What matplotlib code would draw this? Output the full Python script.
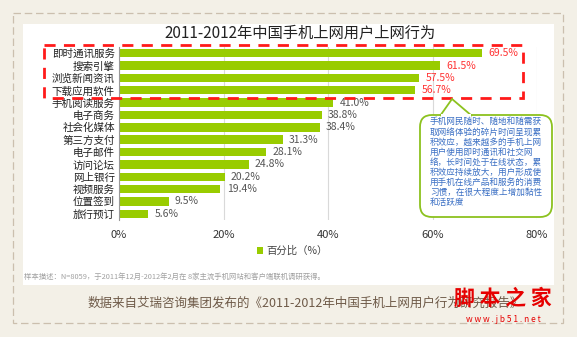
import matplotlib
matplotlib.use("Agg")
import matplotlib.pyplot as plt
from matplotlib.patches import Rectangle, FancyBboxPatch, Polygon, Patch

plt.rcParams["font.family"] = ["Noto Sans CJK SC", "DejaVu Sans"]

# data
categories = ["即时通讯服务", "搜索引擎", "浏览新闻资讯", "下载应用软件", "手机阅读服务",
              "电子商务", "社会化媒体", "第三方支付", "电子邮件", "访问论坛",
              "网上银行", "视频服务", "位置签到", "旅行预订"]
values = [69.5, 61.5, 57.5, 56.7, 41.0, 38.8, 38.4, 31.3, 28.1, 24.8, 20.2, 19.4, 9.5, 5.6]
highlight = 4  # first n rows in red
xticks = [0, 20, 40, 60, 80]
xticklabels = ["0%", "20%", "40%", "60%", "80%"]

title = "2011-2012年中国手机上网用户上网行为"
legend_label = "百分比（%）"
note = "样本描述：N=8059，于2011年12月-2012年2月在 8家主流手机网站和客户端联机调研获得。"
caption = "数据来自艾瑞咨询集团发布的《2011-2012年中国手机上网用户行为研究报告》"
callout = ("手机网民随时、随地和随需获\n取网络体验的碎片时间呈现累\n积效应，越来越多的手机上网\n"
           "用户使用即时通讯和社交网\n络，长时间处于在线状态，累\n积效应持续放大，用户形成使\n"
           "用手机在线产品和服务的消费\n习惯，在很大程度上增加黏性\n和活跃度")

W, H = 577, 337
fig = plt.figure(figsize=(W / 100, H / 100), dpi=100)
fig.patch.set_facecolor("#f3f0e7")

# background layer in pixel coords
bg = fig.add_axes([0, 0, 1, 1], zorder=0)
bg.set_xlim(0, W)
bg.set_ylim(H, 0)
bg.axis("off")
bg.add_patch(Rectangle((13, 13), 550, 310, fill=False, ec="#cbbfae", lw=0.9, ls=(0, (6, 3))))
bg.add_patch(Rectangle((23, 24), 531, 261, fc="white", ec="none"))
bg.text(300, 33, title, ha="center", va="center", fontsize=11, color="#222222")
bg.text(24, 277, note, ha="left", va="center", fontsize=5.3, color="#a0a0a0")
bg.text(88, 303, caption, ha="left", va="center", fontsize=9, color="#6e5a48")

# main bar chart
n = len(categories)
ax = fig.add_axes([119 / W, 1 - 220 / H, 418 / W, 173 / H], zorder=1)
ax.patch.set_alpha(0)
ax.barh(range(n), values, height=0.68, color="#99cc00", zorder=2)
ax.set_ylim(n - 0.5, -0.5)
ax.set_xlim(0, 80)
ax.set_yticks(range(n))
ax.set_yticklabels(categories, fontsize=7.6, color="#222222")
ax.set_xticks(xticks)
ax.set_xticklabels(xticklabels, fontsize=8, color="#333333")
ax.tick_params(axis="y", length=0, pad=3)
ax.tick_params(axis="x", length=0, pad=7)
ax.grid(axis="x", color="#d9d9d9", lw=0.8, zorder=0)
for s in ["top", "right", "bottom"]:
    ax.spines[s].set_visible(False)
ax.spines["left"].set_color("#999999")
ax.spines["left"].set_linewidth(0.8)
for i, v in enumerate(values):
    ax.text(v + 1.2, i, f"{v:.1f}%", va="center", ha="left", fontsize=7.5,
            color="#ff3333" if i < highlight else "#555555")

fig.legend(handles=[Patch(fc="#99cc00", ec="none")], labels=[legend_label],
           loc="center", bbox_to_anchor=(292 / W, 1 - 251 / H), frameon=False,
           fontsize=7.5, handlelength=0.6, handleheight=0.6, handletextpad=0.3,
           labelcolor="#444444")

# overlay: highlight box and callout
ov = fig.add_axes([0, 0, 1, 1], zorder=3)
ov.set_xlim(0, W)
ov.set_ylim(H, 0)
ov.axis("off")
ov.patch.set_alpha(0)
ov.add_patch(Rectangle((44, 45), 479, 53, fill=False, ec="#ff1a1a", lw=2, ls=(0, (4, 3))))
ov.add_patch(FancyBboxPatch((424, 119), 124, 94, boxstyle="round,pad=4,rounding_size=12",
                            fc="white", ec="#8cc21f", lw=1.3))
ov.add_patch(Polygon([(440, 116), (452, 99), (472, 116)], closed=False,
                     fc="white", ec="#8cc21f", lw=1.3))
ov.add_patch(Rectangle((441, 113.5), 30, 4, fc="white", ec="none"))
ov.text(430, 162, callout, ha="left", va="center", fontsize=6.2, color="#3a6fc4",
        linespacing=1.15)
ov.text(503, 298, "脚 本 之 家", ha="center", va="center", fontsize=15, color="#e60000",
        fontweight="bold")
ov.text(503, 320, "w w w . j b 5 1 . n e t", ha="center", va="center", fontsize=6,
        color="#e60000")

fig.savefig("out.png", dpi=100, facecolor=fig.get_facecolor())
